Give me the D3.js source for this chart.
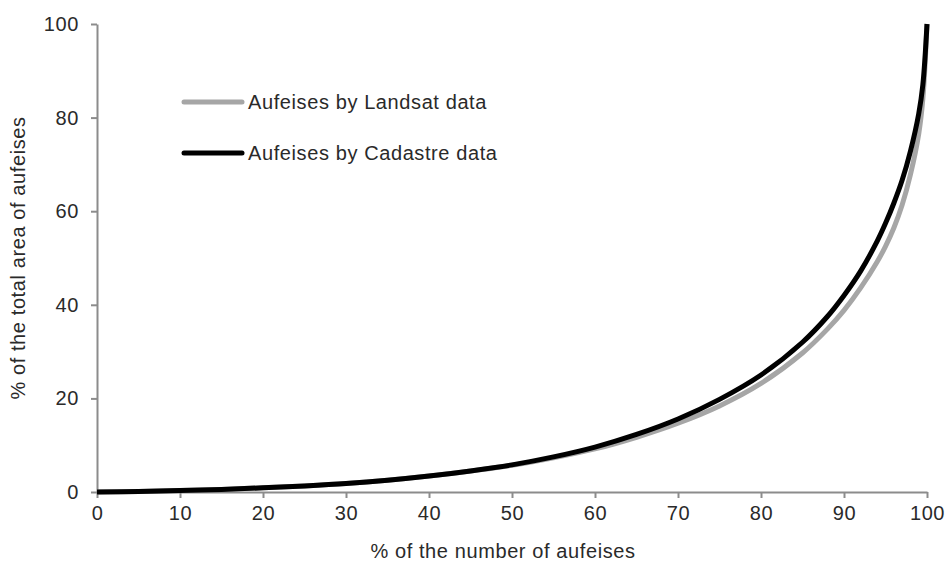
<!DOCTYPE html>
<html><head><meta charset="utf-8">
<script src="https://cdn.jsdelivr.net/npm/d3@7/dist/d3.min.js"></script>
<style>body{margin:0;background:#fff}svg{display:block}</style>
</head><body><svg id="c" width="948" height="566"></svg>
<script>
const xTicks=[0,10,20,30,40,50,60,70,80,90,100];
const yTicks=[0,20,40,60,80,100];
const cadastreX=[0,5,10,15,20,25,30,35,40,45,50,55,60,65,70,75,80,85,88,90,92,94,95,96,97,98,99,99.5,100];
const cadastreY=[0,0.1,0.3,0.55,0.9,1.3,1.8,2.5,3.4,4.5,5.8,7.5,9.6,12.3,15.6,19.8,25,32,37.5,42,47.2,53.6,57.4,61.7,66.6,72.8,80.8,87,100];
const landsatX=[0,5,10,15,20,25,30,35,40,45,50,55,60,65,70,75,80,85,88,90,92,94,95,96,97,98,99,99.5,100];
const landsatY=[0,0.1,0.3,0.55,0.9,1.3,1.8,2.5,3.4,4.5,5.7,7.3,9.2,11.7,14.7,18.4,23.2,29.7,34.8,38.8,43.6,49.2,52.5,56.4,61.3,67.8,76.5,84,100];
const seriesNames=["Aufeises by Landsat data","Aufeises by Cadastre data"];
const xTitle="% of the number of aufeises";
const yTitle="% of the total area of aufeises";

const svg=d3.select("#c");
const L=97,R=927,T=24,B=492;
const x=d3.scaleLinear().domain([0,100]).range([L,R]);
const y=d3.scaleLinear().domain([0,100]).range([B,T]);
const font="'Liberation Sans', Arial, sans-serif";
const fs="20px", ls="0.6px", tc="#2a2a2a";
function styleText(s){s.attr("fill",tc).style("font-family",font).style("font-size",fs).style("letter-spacing",ls);}

const xa=svg.append("g").attr("transform",`translate(0,${B})`)
  .call(d3.axisBottom(x).tickValues(xTicks).tickSize(6).tickSizeOuter(0).tickPadding(8));
const ya=svg.append("g").attr("transform",`translate(${L},0)`)
  .call(d3.axisLeft(y).tickValues(yTicks).tickSize(6).tickSizeOuter(0).tickPadding(12));
[xa,ya].forEach(a=>{
  a.select(".domain").attr("stroke","#8c8c8c").attr("stroke-width",2);
  a.selectAll(".tick line").attr("stroke","#8c8c8c").attr("stroke-width",2);
  a.selectAll(".tick text").call(styleText);
});

const line=d3.line().x(d=>x(d[0])).y(d=>y(d[1])).curve(d3.curveCatmullRom.alpha(0.5));
const landsat=landsatX.map((v,i)=>[v,landsatY[i]]);
const cadastre=cadastreX.map((v,i)=>[v,cadastreY[i]]);
svg.append("path").datum(landsat).attr("d",line).attr("fill","none").attr("stroke","#a6a6a6").attr("stroke-width",5);
svg.append("path").datum(cadastre).attr("d",line).attr("fill","none").attr("stroke","#000").attr("stroke-width",5);

const leg=[{c:"#a6a6a6",y:102},{c:"#000",y:153}];
leg.forEach((l,i)=>{
  svg.append("line").attr("x1",184).attr("x2",242).attr("y1",l.y).attr("y2",l.y)
    .attr("stroke",l.c).attr("stroke-width",5).attr("stroke-linecap","round");
  svg.append("text").attr("x",248).attr("y",l.y).attr("dy","0.35em").text(seriesNames[i]).call(styleText);
});

svg.append("text").attr("x",503).attr("y",558).attr("text-anchor","middle").text(xTitle).call(styleText);
svg.append("text").attr("transform",`translate(25,${(T+B)/2}) rotate(-90)`).attr("text-anchor","middle").text(yTitle).call(styleText);
</script></body></html>
